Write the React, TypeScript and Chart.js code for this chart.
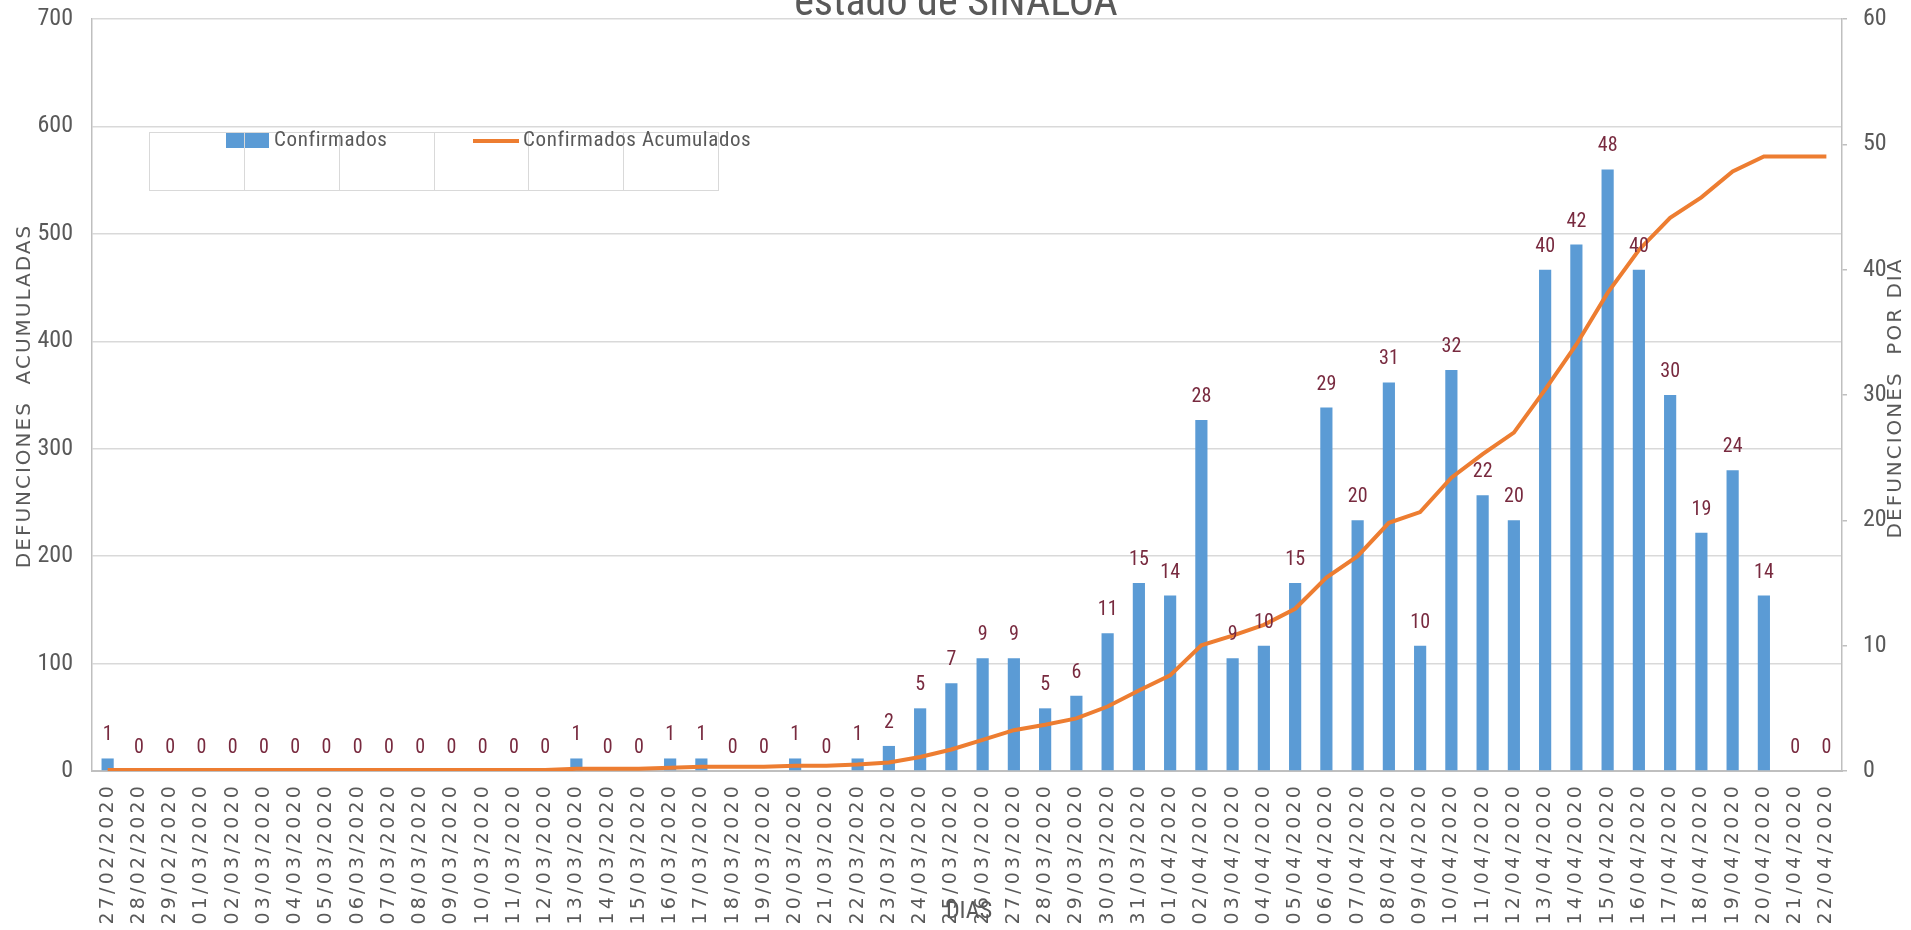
import React, { useEffect, useRef } from "react";
import { Chart, registerables } from "chart.js";

Chart.register(...registerables);

const dates = [
  "27/02/2020", "28/02/2020", "29/02/2020", "01/03/2020", "02/03/2020", "03/03/2020", "04/03/2020",
  "05/03/2020", "06/03/2020", "07/03/2020", "08/03/2020", "09/03/2020", "10/03/2020", "11/03/2020",
  "12/03/2020", "13/03/2020", "14/03/2020", "15/03/2020", "16/03/2020", "17/03/2020", "18/03/2020",
  "19/03/2020", "20/03/2020", "21/03/2020", "22/03/2020", "23/03/2020", "24/03/2020", "25/03/2020",
  "26/03/2020", "27/03/2020", "28/03/2020", "29/03/2020", "30/03/2020", "31/03/2020", "01/04/2020",
  "02/04/2020", "03/04/2020", "04/04/2020", "05/04/2020", "06/04/2020", "07/04/2020", "08/04/2020",
  "09/04/2020", "10/04/2020", "11/04/2020", "12/04/2020", "13/04/2020", "14/04/2020", "15/04/2020",
  "16/04/2020", "17/04/2020", "18/04/2020", "19/04/2020", "20/04/2020", "21/04/2020", "22/04/2020",
];

const dailyDeaths = [
  1, 0, 0, 0, 0, 0, 0,
  0, 0, 0, 0, 0, 0, 0,
  0, 1, 0, 0, 1, 1, 0,
  0, 1, 0, 1, 2, 5, 7,
  9, 9, 5, 6, 11, 15, 14,
  28, 9, 10, 15, 29, 20, 31,
  10, 32, 22, 20, 40, 42, 48,
  40, 30, 19, 24, 14, 0, 0,
];

const cumulativeDeaths = [
  1, 1, 1, 1, 1, 1, 1,
  1, 1, 1, 1, 1, 1, 1,
  1, 2, 2, 2, 3, 4, 4,
  4, 5, 5, 6, 8, 13, 20,
  29, 38, 43, 49, 60, 75, 89,
  117, 126, 136, 151, 180, 200, 231,
  241, 273, 295, 315, 355, 397, 445,
  485, 515, 534, 558, 572, 572, 572,
];

const seriesNames = ["Confirmados", "Confirmados Acumulados"];
const titleText = "estado de SINALOA";
const leftAxisTitle = "DEFUNCIONES  ACUMULADAS";
const rightAxisTitle = "DEFUNCIONES  POR DIA";
const xAxisTitle = "DIAS";
const leftAxisMax = 700;
const leftAxisStep = 100;
const rightAxisMax = 60;
const rightAxisStep = 10;

const W = 1911;
const H = 930;
const NARROW = '"Liberation Sans Narrow", "Arial Narrow", "Roboto Condensed", sans-serif';
const WIDE = '"DejaVu Sans", Verdana, sans-serif';
const GRAY = "#595959";
const BLUE = "#5b9bd5";
const ORANGE = "#ed7d31";
const LABEL_RED = "#782a3f";
const GRID = "#d9d9d9";
const AXIS = "#bfbfbf";

const decorPlugin = {
  id: "decor",
  afterDatasetsDraw(chart: any) {
    const ctx = chart.ctx;
    const meta = chart.getDatasetMeta(0);
    ctx.save();
    ctx.font = `20px ${NARROW}`;
    ctx.fillStyle = LABEL_RED;
    ctx.textAlign = "center";
    ctx.textBaseline = "alphabetic";
    meta.data.forEach((el: any, i: number) => {
      ctx.fillText(String(chart.data.datasets[0].data[i]), el.x, el.y - 18);
    });
    ctx.restore();
  },
  afterDraw(chart: any) {
    const ctx = chart.ctx;
    const area = chart.chartArea;
    const xs = chart.scales.x;

    // title (partly cut off at the top)
    ctx.save();
    ctx.font = `42px ${NARROW}`;
    ctx.fillStyle = GRAY;
    ctx.textAlign = "center";
    ctx.textBaseline = "alphabetic";
    ctx.fillText(titleText, 956, 15);
    ctx.restore();

    // x tick labels (rotated)
    ctx.save();
    ctx.font = `19px ${WIDE}`;
    (ctx as any).letterSpacing = "3.2px";
    ctx.fillStyle = GRAY;
    ctx.textAlign = "right";
    ctx.textBaseline = "middle";
    chart.data.labels.forEach((lab: string, i: number) => {
      const x = xs.getPixelForValue(i);
      ctx.save();
      ctx.translate(x, area.bottom + 12);
      ctx.rotate(-Math.PI / 2);
      ctx.fillText(lab, 0, 0);
      ctx.restore();
    });
    ctx.restore();

    // x axis title
    ctx.save();
    ctx.font = `24px ${NARROW}`;
    ctx.fillStyle = GRAY;
    ctx.textAlign = "center";
    ctx.textBaseline = "middle";
    ctx.fillText(xAxisTitle, 969, 912);
    ctx.restore();

    // y axis titles
    const drawVert = (text: string, x: number, y: number) => {
      ctx.save();
      ctx.font = `20px ${WIDE}`;
      (ctx as any).letterSpacing = "2px";
      ctx.fillStyle = GRAY;
      ctx.textAlign = "center";
      ctx.textBaseline = "middle";
      ctx.translate(x, y);
      ctx.rotate(-Math.PI / 2);
      ctx.fillText(text, 0, 0);
      ctx.restore();
    };
    drawVert(leftAxisTitle, 25, 396);
    drawVert(rightAxisTitle, 1896, 398);

    // legend (table-like box)
    const bx = 149, by = 132, bw = 569, bh = 58;
    ctx.save();
    const ds = chart.data.datasets;
    ctx.fillStyle = ds[0].backgroundColor;
    ctx.fillRect(226, 133, 43, 15);
    ctx.strokeStyle = ds[1].borderColor;
    ctx.lineWidth = 4;
    ctx.beginPath();
    ctx.moveTo(473, 141);
    ctx.lineTo(519, 141);
    ctx.stroke();

    ctx.strokeStyle = GRID;
    ctx.lineWidth = 1;
    ctx.strokeRect(bx + 0.5, by + 0.5, bw, bh);
    for (let k = 1; k < 6; k++) {
      const x = Math.round(bx + (k * bw) / 6) + 0.5;
      ctx.beginPath();
      ctx.moveTo(x, by);
      ctx.lineTo(x, by + bh);
      ctx.stroke();
    }

    ctx.font = `21px ${NARROW}`;
    (ctx as any).letterSpacing = "0.6px";
    ctx.fillStyle = GRAY;
    ctx.textAlign = "left";
    ctx.textBaseline = "middle";
    ctx.fillText(ds[0].label, 274, 141);
    ctx.fillText(ds[1].label, 523, 141);
    ctx.restore();
  },
};

export default function App() {
  const canvasRef = useRef<HTMLCanvasElement | null>(null);

  useEffect(() => {
    document.body.style.margin = "0";
    document.body.style.overflow = "hidden";
    const canvas = canvasRef.current;
    if (!canvas) return;
    const chart = new Chart(canvas, {
      type: "bar",
      data: {
        labels: dates,
        datasets: [
          {
            type: "bar",
            label: seriesNames[0],
            data: dailyDeaths,
            backgroundColor: BLUE,
            yAxisID: "y1",
            barPercentage: 0.39,
            categoryPercentage: 1.0,
            order: 2,
          },
          {
            type: "line",
            label: seriesNames[1],
            data: cumulativeDeaths,
            borderColor: ORANGE,
            backgroundColor: ORANGE,
            borderWidth: 4,
            pointRadius: 0,
            tension: 0,
            fill: false,
            yAxisID: "y",
            order: 1,
          },
        ] as any,
      },
      options: {
        animation: false,
        responsive: true,
        maintainAspectRatio: false,
        layout: { padding: { top: 19, left: 0, right: 0, bottom: 0 } },
        plugins: {
          legend: { display: false },
          title: { display: false },
          tooltip: { enabled: false },
        },
        scales: {
          x: {
            type: "category",
            offset: true,
            grid: { display: false, drawTicks: false },
            border: { display: true, color: AXIS, width: 2 },
            ticks: { display: false },
            afterFit: (s: any) => {
              s.height = H - 771;
              s.paddingLeft = 0;
              s.paddingRight = 0;
            },
          },
          y: {
            position: "left",
            min: 0,
            max: leftAxisMax,
            ticks: {
              stepSize: leftAxisStep,
              font: { family: NARROW, size: 24 },
              color: GRAY,
              padding: 19,
            },
            grid: { color: GRID, lineWidth: 1.5, drawTicks: false },
            border: { display: true, color: AXIS, width: 1.5 },
            afterFit: (s: any) => {
              s.width = 92;
              s.paddingTop = 0;
              s.paddingBottom = 0;
            },
          },
          y1: {
            position: "right",
            min: 0,
            max: rightAxisMax,
            ticks: {
              stepSize: rightAxisStep,
              font: { family: NARROW, size: 24 },
              color: GRAY,
              padding: 16,
            },
            grid: { drawOnChartArea: false, drawTicks: true, tickLength: 5, color: AXIS, lineWidth: 1.5 },
            border: { display: true, color: AXIS, width: 1.5 },
            afterFit: (s: any) => {
              s.width = W - 1842;
              s.paddingTop = 0;
              s.paddingBottom = 0;
            },
          },
        },
      } as any,
      plugins: [decorPlugin],
    });
    return () => chart.destroy();
  }, []);

  return (
    <div style={{ width: W, height: H, position: "relative", background: "#ffffff" }}>
      <canvas ref={canvasRef} />
    </div>
  );
}
